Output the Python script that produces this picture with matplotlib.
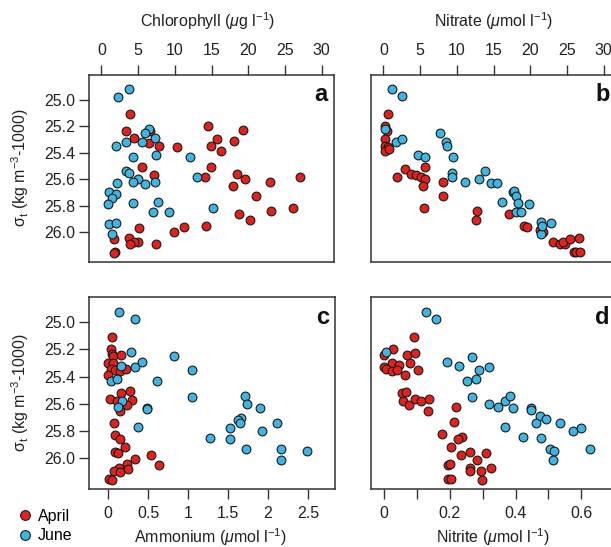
import matplotlib
matplotlib.use("Agg")
import matplotlib.pyplot as plt
from matplotlib.lines import Line2D

plt.rcParams['font.family'] = ['Liberation Sans', 'DejaVu Sans']
plt.rcParams['mathtext.fontset'] = 'custom'
plt.rcParams['mathtext.rm'] = 'Liberation Sans'
plt.rcParams['mathtext.it'] = 'Liberation Sans:italic'
plt.rcParams['mathtext.bf'] = 'Liberation Sans:bold'

# ---------------- data ----------------
# Panel a: chlorophyll vs sigma-t
chl_apr = [3.87, 3.32, 6.6, 4.41, 6.51, 7.87, 14.56, 19.3, 10.29, 15.75, 14.97, 18.07, 16.26,
           5.46, 14.89, 7.19, 14.11, 18.44, 19.54, 27.13, 17.98, 23.03, 21.12, 26.13, 23.08,
           18.8, 20.26, 14.21, 11.2, 9.88, 5.05, 1.68, 3.82, 4.96, 4.45, 3.91, 7.42, 1.78, 1.7]
chl_apr_sig = [25.11, 25.24, 25.24, 25.29, 25.33, 25.35, 25.20, 25.23, 25.36, 25.30, 25.35, 25.31, 25.39,
               25.51, 25.51, 25.57, 25.58, 25.56, 25.60, 25.58, 25.65, 25.62, 25.73, 25.82, 25.84,
               25.86, 25.91, 25.95, 25.96, 26.00, 25.97, 26.05, 26.04, 26.07, 26.07, 26.09, 26.09, 26.15, 26.155]
chl_jun = [3.77, 2.27, 6.46, 6.0, 1.95, 3.32, 5.46, 7.33, 4.32, 7.42, 12.1, 3.32, 3.77, 5.0, 12.98,
           4.32, 5.96, 7.24, 2.05, 1.0, 1.95, 1.37, 0.91, 4.32, 7.74, 7.05, 9.19, 15.25, 1.0, 1.95, 1.37]
chl_jun_sig = [24.917, 24.98, 25.223, 25.25, 25.35, 25.32, 25.32, 25.29, 25.43, 25.42, 25.43, 25.54, 25.55, 25.6, 25.58,
               25.62, 25.64, 25.62, 25.63, 25.70, 25.71, 25.74, 25.79, 25.78, 25.77, 25.85, 25.85, 25.82, 25.935, 25.93, 26.01]

# Panel b: nitrate vs sigma-t
no3_apr = [0.59, 0.19, 0.5, 0.27, 0.27, 0.6, 0.23, 0.81, 2.98, 1.9, 3.72, 4.48, 5.12, 5.66, 5.7, 5.43,
           8.1, 8.14, 5.56, 12.71, 12.62, 17.15, 19.13, 19.59, 21.35, 21.8, 23.16, 24.07, 24.75,
           24.42, 25.42, 26.6, 25.97, 26.3, 26.76]
no3_apr_sig = [25.11, 25.20, 25.24, 25.30, 25.35, 25.355, 25.39, 25.37, 25.52, 25.58, 25.56, 25.57, 25.58, 25.51, 25.60, 25.65,
               25.62, 25.73, 25.82, 25.84, 25.91, 25.86, 25.95, 25.96, 25.98, 26.00, 26.07, 26.09, 26.09,
               26.07, 26.05, 26.04, 26.15, 26.15, 26.15]
no3_jun = [1.13, 2.53, 0.19, 1.64, 2.53, 7.67, 8.48, 8.62, 9.53, 4.7, 5.6, 9.34, 9.39, 11.15, 13.05,
           13.8, 14.7, 15.47, 17.64, 17.8, 18.1, 18.32, 16.15, 19.9, 18.0, 18.7, 21.5, 22.9, 21.5, 21.6]
no3_jun_sig = [24.92, 24.975, 25.22, 25.32, 25.30, 25.25, 25.32, 25.35, 25.43, 25.42, 25.43, 25.55, 25.58, 25.62, 25.60,
               25.54, 25.63, 25.63, 25.70, 25.69, 25.73, 25.78, 25.77, 25.79, 25.85, 25.85, 25.92, 25.93, 26.01, 25.95]

# Panel c: ammonium vs sigma-t
nh4_apr = [0.05, 0.03, 0.05, 0.06, 0.155, 0.0, 0.06, 0.03, 0.08, 0.146, 0.22, 0.0, 0.155, 0.27, 0.02,
           0.11, 0.3, 0.24, 0.146, 0.075, 0.09, 0.15, 0.21, 0.08, 0.12, 0.53, 0.33, 0.64, 0.24, 0.246,
           0.134, 0.07, 0.146, 0.01, 0.05]
nh4_apr_sig = [25.108, 25.20, 25.23, 25.25, 25.242, 25.303, 25.30, 25.34, 25.35, 25.357, 25.347, 25.39, 25.516, 25.506, 25.563,
               25.58, 25.57, 25.61, 25.653, 25.736, 25.83, 25.86, 25.915, 25.956, 25.963, 25.973, 26.007, 26.05, 26.04, 26.076,
               26.073, 26.093, 26.098, 26.15, 26.16]
nh4_jun = [0.134, 0.34, 0.28, 0.825, 1.05, 0.155, 0.34, 0.42, 0.03, 0.11, 0.61, 1.05, 0.175, 0.12, 0.48, 0.48, 0.37,
           1.71, 1.74, 1.90, 1.66, 1.62, 1.65, 2.12, 1.52, 1.92, 1.27, 1.52, 1.73, 2.16, 2.49, 2.16]
nh4_jun_sig = [24.924, 24.978, 25.222, 25.25, 25.35, 25.318, 25.328, 25.293, 25.43, 25.42, 25.433, 25.55, 25.577, 25.62, 25.626, 25.64, 25.77,
               25.543, 25.60, 25.629, 25.70, 25.72, 25.739, 25.743, 25.78, 25.795, 25.85, 25.856, 25.934, 25.934, 25.944, 26.01]

# Panel d: nitrite vs sigma-t
no2_apr = [0.09, 0.0, 0.026, 0.071, 0.094, 0.025, 0.044, 0.0, 0.007, 0.023, 0.039, 0.078, 0.103, 0.064,
           0.054, 0.068, 0.058, 0.076, 0.094, 0.111, 0.137, 0.133, 0.22, 0.214, 0.175, 0.236, 0.225, 0.205,
           0.235, 0.261, 0.284, 0.31, 0.193, 0.201, 0.262, 0.261, 0.295, 0.325, 0.195, 0.205, 0.297]
no2_apr_sig = [25.112, 25.24, 25.198, 25.242, 25.227, 25.30, 25.315, 25.328, 25.347, 25.36, 25.352, 25.303, 25.35, 25.39,
               25.516, 25.511, 25.58, 25.605, 25.567, 25.577, 25.565, 25.653, 25.62, 25.734, 25.824, 25.841, 25.86, 25.915,
               25.973, 25.956, 26.01, 25.961, 26.05, 26.04, 26.07, 26.09, 26.09, 26.07, 26.15, 26.15, 26.157]
no2_jun = [0.128, 0.158, 0.007, 0.192, 0.229, 0.267, 0.29, 0.318, 0.253, 0.28, 0.267, 0.318, 0.346, 0.368, 0.384,
           0.392, 0.447, 0.447, 0.369, 0.476, 0.493, 0.462, 0.534, 0.424, 0.479, 0.576, 0.598, 0.506, 0.516, 0.515, 0.627]
no2_jun_sig = [24.924, 24.98, 25.222, 25.293, 25.32, 25.254, 25.354, 25.327, 25.43, 25.42, 25.55, 25.60, 25.62, 25.577, 25.543,
               25.63, 25.63, 25.645, 25.77, 25.69, 25.71, 25.743, 25.736, 25.846, 25.853, 25.795, 25.78, 25.93, 25.944, 26.01, 25.934]

months = ["April", "June"]
panel_letters = ["a", "b", "c", "d"]
xlabels = [r"Chlorophyll ($\mu$g l$^{\mathrm{-1}}$)", r"Nitrate ($\mu$mol l$^{\mathrm{-1}}$)",
           r"Ammonium ($\mu$mol l$^{\mathrm{-1}}$)", r"Nitrite ($\mu$mol l$^{\mathrm{-1}}$)"]
ylabel = r"σ$_\mathrm{t}$ (kg m$^{\mathrm{-3}}$-1000)"
yticks = [25.0, 25.2, 25.4, 25.6, 25.8, 26.0]

RED = "#E3201C"
BLUE = "#3DB6E3"
EDGE = "#1a1a1a"
FRAME = "#333333"

W, H = 611, 547
fig = plt.figure(figsize=(W / 100, H / 100), dpi=100)


def px_axes(x0, y0, x1, y1):
    return fig.add_axes([x0 / W, 1 - y1 / H, (x1 - x0) / W, (y1 - y0) / H])


axa = px_axes(89, 75, 334, 262)
axb = px_axes(371, 75, 616, 262)
axc = px_axes(89, 297, 335, 489)
axd = px_axes(371, 297, 616, 489)

panels = [
    (axa, chl_apr, chl_apr_sig, chl_jun, chl_jun_sig),
    (axb, no3_apr, no3_apr_sig, no3_jun, no3_jun_sig),
    (axc, nh4_apr, nh4_apr_sig, nh4_jun, nh4_jun_sig),
    (axd, no2_apr, no2_apr_sig, no2_jun, no2_jun_sig),
]

FS = 11.5
for i, (ax, xa, ya, xj, yj) in enumerate(panels):
    ax.scatter(xa, ya, s=40, c=RED, edgecolors=EDGE, linewidths=0.8, zorder=3, clip_on=False)
    ax.scatter(xj, yj, s=40, c=BLUE, edgecolors=EDGE, linewidths=0.8, zorder=3, clip_on=False)
    for sp in ax.spines.values():
        sp.set_color(FRAME)
        sp.set_linewidth(1.1)
    ax.set_ylim(26.224, 24.815)
    ax.text(0.975, 0.955, panel_letters[i], transform=ax.transAxes, ha="right", va="top",
            fontsize=17, fontweight="bold", color="#111111")
    ax.tick_params(axis="both", direction="out", length=7, width=1.0, color=FRAME,
                   labelsize=FS, labelcolor="#222222")
    ax.tick_params(axis="x", pad=5)
    ax.tick_params(axis="y", pad=3)
    if i in (0, 2):
        ax.set_yticks(yticks)
        ax.set_yticklabels([f"{v:.1f}" for v in yticks])
    else:
        ax.set_yticks([])
    if i < 2:
        ax.xaxis.tick_top()

for ax in (axa, axb):
    ax.set_xlim(-1.7, 31.7)
    ax.set_xticks([0, 5, 10, 15, 20, 25, 30])

axc.set_xlim(-0.24, 2.84)
axc.set_xticks([0, 0.5, 1, 1.5, 2, 2.5])
axc.set_xticklabels(["0", "0.5", "1", "1.5", "2", "2.5"])

axd.set_xlim(-0.04, 0.706)
axd.set_xticks([0, 0.1, 0.2, 0.3, 0.4, 0.5, 0.6, 0.7])
axd.set_xticklabels(["0", "", "0.2", "", "0.4", "", "0.6", ""])

# axis titles
fig.text(208 / W, 1 - 21 / H, xlabels[0], ha="center", va="center", fontsize=FS, color="#222222")
fig.text(494 / W, 1 - 21 / H, xlabels[1], ha="center", va="center", fontsize=FS, color="#222222")
fig.text(210 / W, 1 - 537 / H, xlabels[2], ha="center", va="center", fontsize=FS, color="#222222")
fig.text(493 / W, 1 - 537 / H, xlabels[3], ha="center", va="center", fontsize=FS, color="#222222")
fig.text(20 / W, 1 - 168 / H, ylabel, ha="center", va="center", rotation=90, fontsize=FS, color="#222222")
fig.text(20 / W, 1 - 393 / H, ylabel, ha="center", va="center", rotation=90, fontsize=FS, color="#222222")

handles = [Line2D([], [], marker="o", linestyle="none", markersize=7, markerfacecolor=RED,
                  markeredgecolor=EDGE, markeredgewidth=0.8),
           Line2D([], [], marker="o", linestyle="none", markersize=7, markerfacecolor=BLUE,
                  markeredgecolor=EDGE, markeredgewidth=0.8)]
fig.legend(handles, months, loc="center left", bbox_to_anchor=(17 / W, 1 - 526 / H),
           frameon=False, fontsize=FS, handlelength=1.0, handletextpad=0.3,
           borderpad=0, borderaxespad=0, labelspacing=0.3)

fig.savefig("out.png", dpi=100)
